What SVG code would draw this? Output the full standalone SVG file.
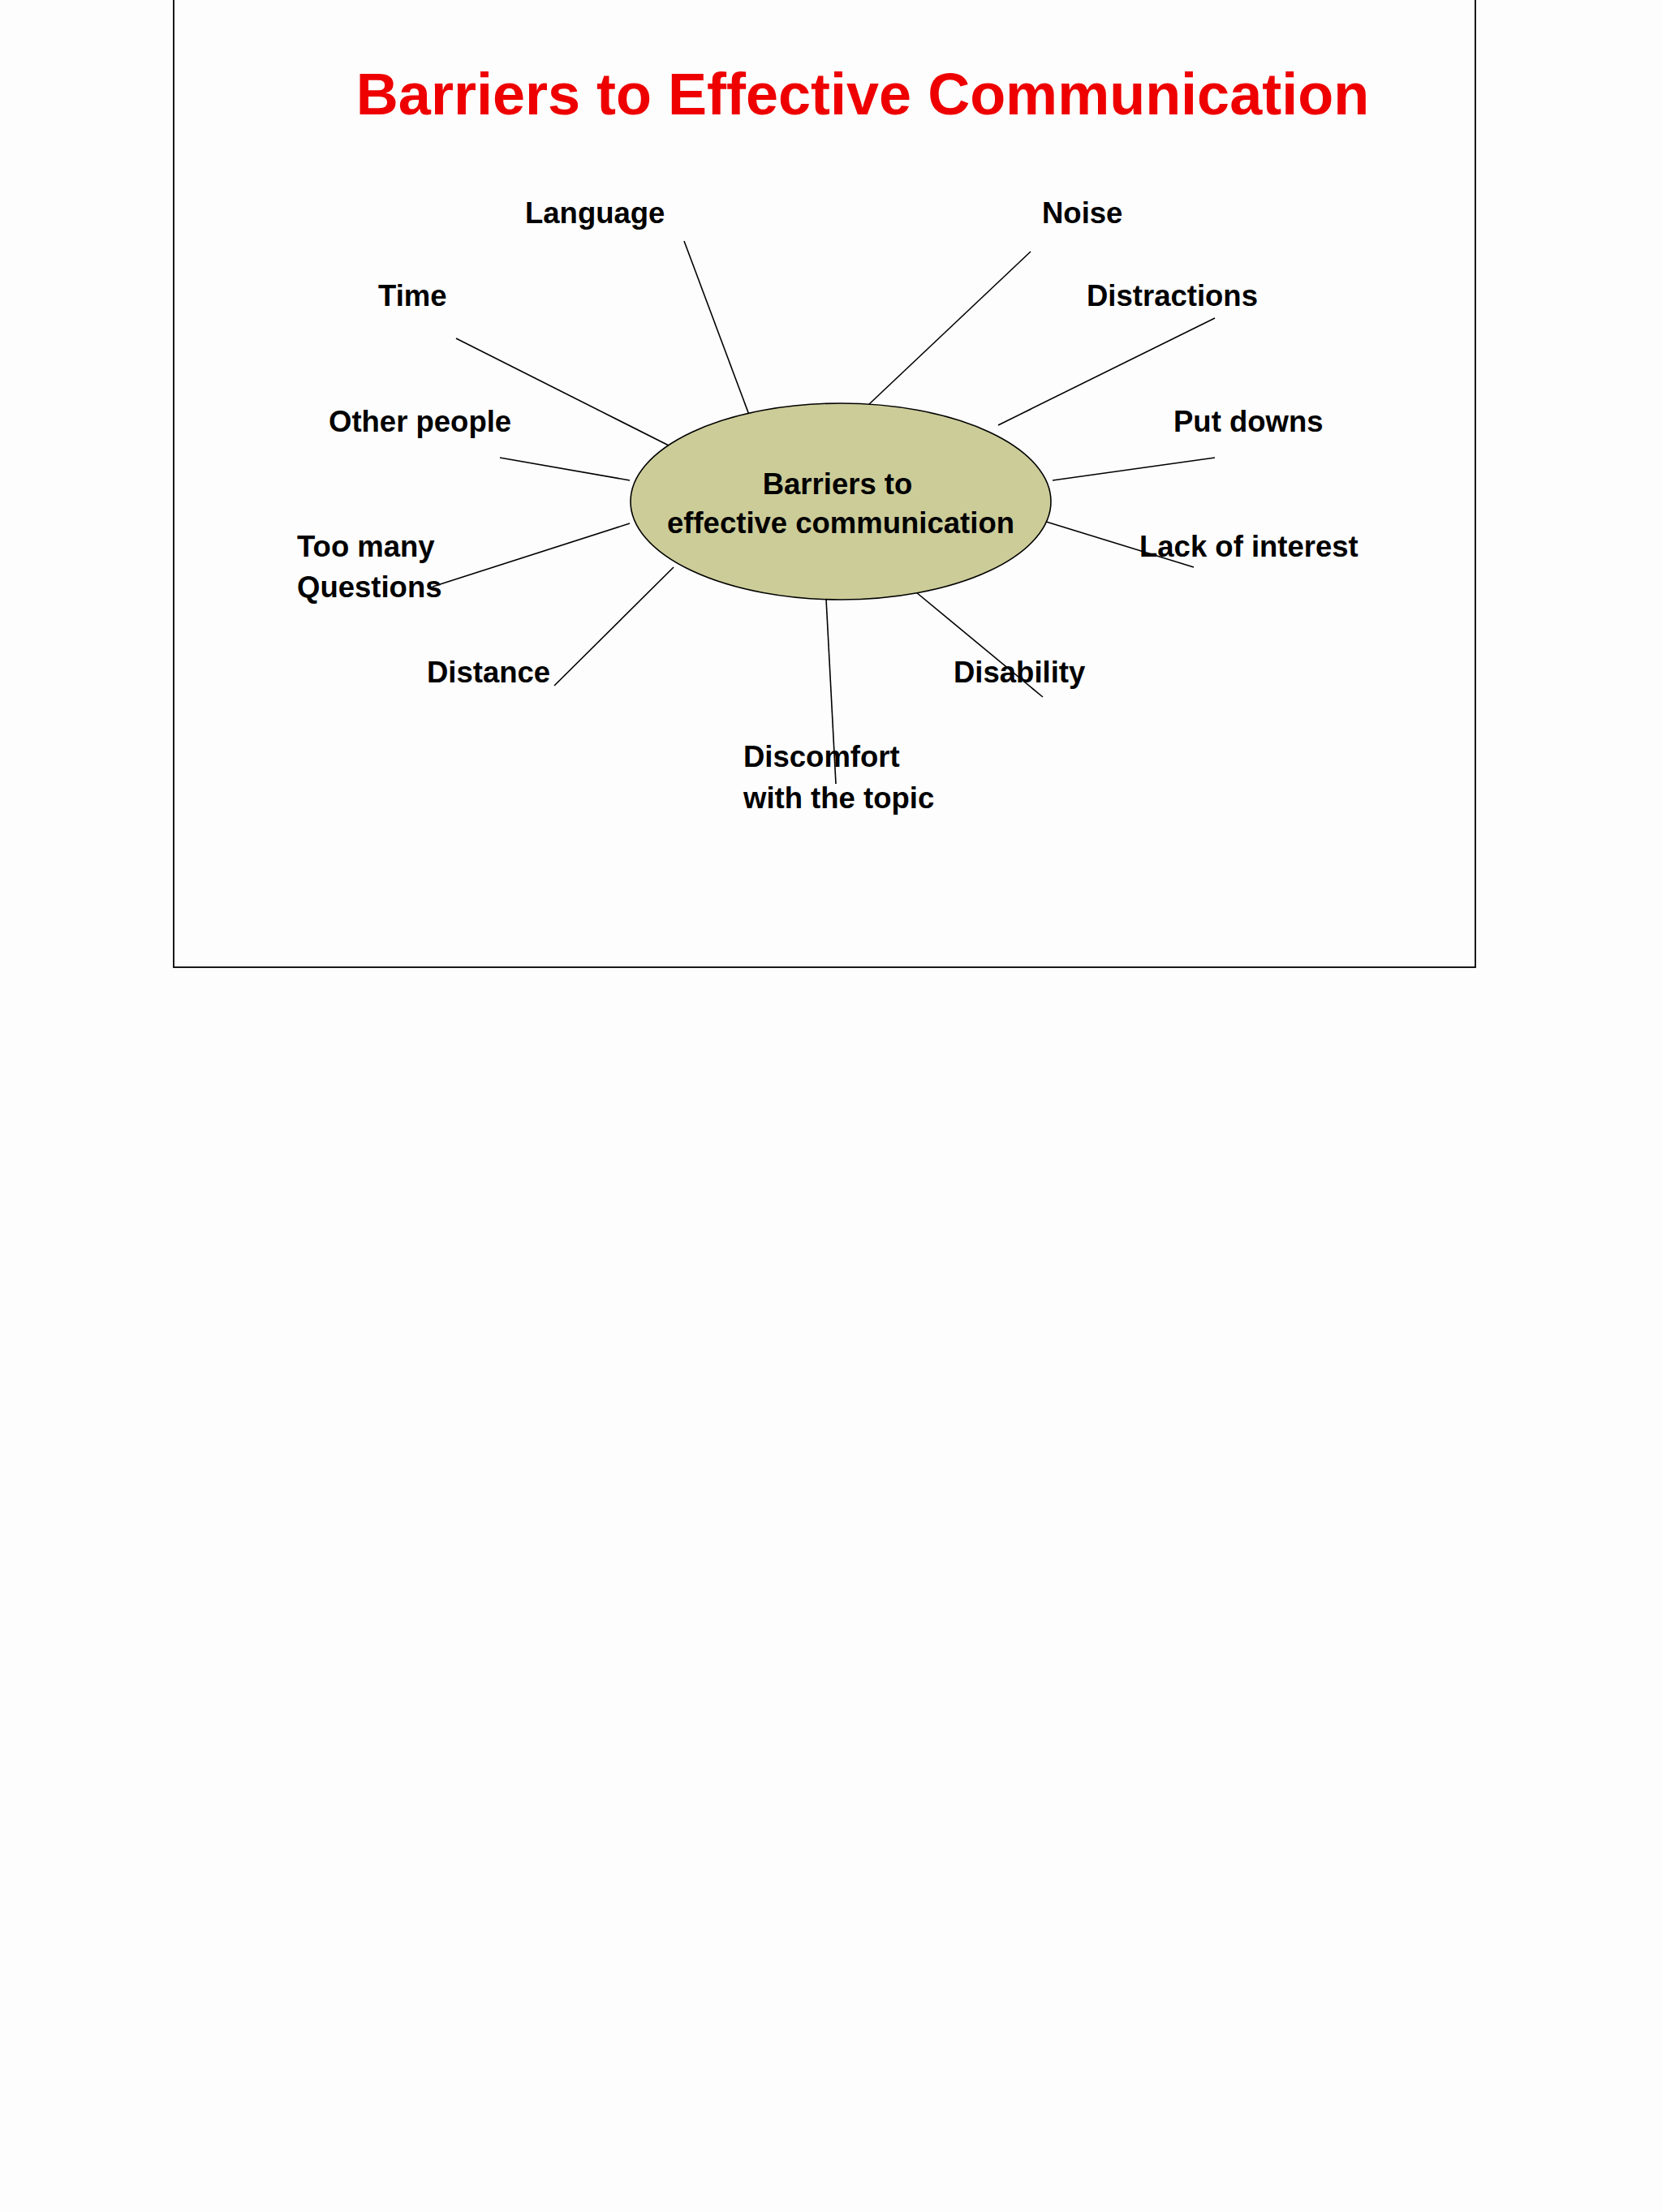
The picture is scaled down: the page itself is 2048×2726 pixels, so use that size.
<svg xmlns="http://www.w3.org/2000/svg" width="2048" height="2726" viewBox="0 0 2048 2726">
<style>
.l{font-family:"Liberation Sans",Arial,sans-serif;font-weight:bold;font-size:36.5px;fill:#000}
.c line{stroke:#000;stroke-width:1.6}
</style>
<rect width="2048" height="2726" fill="#fdfdfd"/>
<rect x="214" y="-2" width="1604" height="1194" fill="none" stroke="#000" stroke-width="1.8"/>
<text x="1063" y="141" text-anchor="middle" font-family="Liberation Sans,Arial,sans-serif" font-weight="bold" font-size="72" fill="#ee0000">Barriers to Effective Communication</text>
<g class="c" id="connectors">
<line x1="843" y1="297" x2="923" y2="511"/>
<line x1="1270" y1="310" x2="1070" y2="499"/>
<line x1="562" y1="417" x2="830" y2="552"/>
<line x1="1497" y1="392" x2="1230" y2="524"/>
<line x1="616" y1="564" x2="776" y2="592"/>
<line x1="1497" y1="564" x2="1297" y2="592"/>
<line x1="533" y1="723" x2="776" y2="645"/>
<line x1="1273" y1="638" x2="1471" y2="699"/>
<line x1="683" y1="845" x2="830" y2="699"/>
<line x1="1123" y1="725" x2="1285" y2="859"/>
<line x1="1018" y1="738" x2="1030" y2="966"/>
</g>
<g id="center">
<ellipse cx="1036" cy="618" rx="259" ry="121" fill="#cccc99" stroke="#000" stroke-width="1.6"/>
<text class="l" x="1032" y="609" text-anchor="middle" font-size="41">Barriers to</text>
<text class="l" x="1036" y="657" text-anchor="middle" font-size="41">effective communication</text>
</g>
<g id="language"><text class="l" x="647" y="275">Language</text></g>
<g id="noise"><text class="l" x="1284" y="275">Noise</text></g>
<g id="time"><text class="l" x="466" y="377">Time</text></g>
<g id="distractions"><text class="l" x="1339" y="377">Distractions</text></g>
<g id="other"><text class="l" x="405" y="532">Other people</text></g>
<g id="putdowns"><text class="l" x="1446" y="532">Put downs</text></g>
<g id="toomany"><text class="l" x="366" y="686">Too many</text><text class="l" x="366" y="736">Questions</text></g>
<g id="lack"><text class="l" x="1404" y="686">Lack of interest</text></g>
<g id="distance"><text class="l" x="526" y="841">Distance</text></g>
<g id="disability"><text class="l" x="1175" y="841">Disability</text></g>
<g id="discomfort"><text class="l" x="916" y="945">Discomfort</text><text class="l" x="916" y="996">with the topic</text></g>
</svg>
